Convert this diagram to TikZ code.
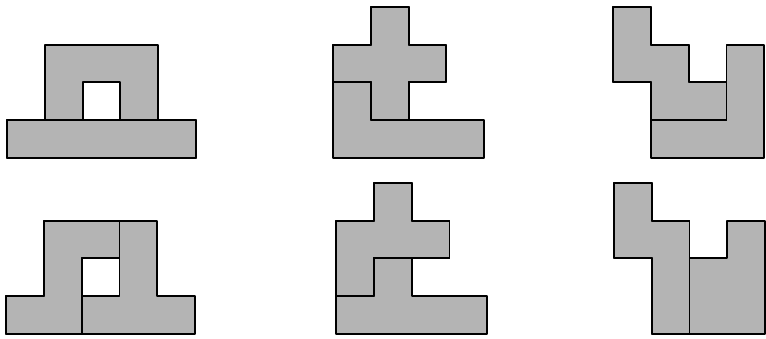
\documentclass[tikz,border=0pt]{standalone}
\usepackage{tikz}
\usepackage{xcolor}
\definecolor{piecegray}{RGB}{180,180,180}

\begin{document}
\begin{tikzpicture}[line width=1.4pt, line join=round,
    piece/.style={draw=black, fill=piecegray}]
            \useasboundingbox (0,0) rectangle (20.265,8.968);
            \begin{scope}[shift={(0.185,4.788)}]
                \draw[piece] (0,0) rectangle (5,1);
                \draw[piece] (1,1) -- (1,3) -- (4,3) -- (4,1) -- (3,1) -- (3,2) -- (2,2) -- (2,1) -- cycle;
                \draw (0,0) rectangle (5,1);
            \end{scope}
            \begin{scope}[shift={(8.81,4.788)}]
                \draw[piece] (1,1) -- (2,1) -- (2,2) -- (3,2) -- (3,3) -- (2,3) -- (2,4) -- (1,4) -- (1,3) -- (0,3) -- (0,2) -- (1,2) -- cycle;
                \draw[piece] (0,0) -- (4,0) -- (4,1) -- (1,1) -- (1,2) -- (0,2) -- cycle;
                \draw (1,1) -- (2,1) -- (2,2) -- (3,2) -- (3,3) -- (2,3) -- (2,4) -- (1,4) -- (1,3) -- (0,3) -- (0,2) -- (1,2) -- cycle;
            \end{scope}
            \begin{scope}[shift={(16.22,4.788)}]
                \draw[piece] (0,2) -- (1,2) -- (1,1) -- (3,1) -- (3,2) -- (2,2) -- (2,3) -- (1,3) -- (1,4) -- (0,4) -- cycle;
                \draw[piece] (1,0) -- (4,0) -- (4,3) -- (3,3) -- (3,1) -- (1,1) -- cycle;
                \draw (0,2) -- (1,2) -- (1,1) -- (3,1) -- (3,2) -- (2,2) -- (2,3) -- (1,3) -- (1,4) -- (0,4) -- cycle;
            \end{scope}
            \begin{scope}[shift={(0.16,0.132)}]
                \draw[piece] (0,0) -- (2,0) -- (2,2) -- (3,2) -- (3,3) -- (1,3) -- (1,1) -- (0,1) -- cycle;
                \draw[piece] (2,0) -- (5,0) -- (5,1) -- (4,1) -- (4,3) -- (3,3) -- (3,1) -- (2,1) -- cycle;
                \draw (0,0) -- (2,0) -- (2,2) -- (3,2) -- (3,3) -- (1,3) -- (1,1) -- (0,1) -- cycle;
            \end{scope}
            \begin{scope}[shift={(8.89,0.132)}]
                \draw[piece] (0,1) -- (1,1) -- (1,2) -- (3,2) -- (3,3) -- (2,3) -- (2,4) -- (1,4) -- (1,3) -- (0,3) -- cycle;
                \draw[piece] (0,0) -- (4,0) -- (4,1) -- (2,1) -- (2,2) -- (1,2) -- (1,1) -- (0,1) -- cycle;
                \draw (0,1) -- (1,1) -- (1,2) -- (3,2) -- (3,3) -- (2,3) -- (2,4) -- (1,4) -- (1,3) -- (0,3) -- cycle;
            \end{scope}
            \begin{scope}[shift={(16.24,0.132)}]
                \draw[piece] (1,0) -- (2,0) -- (2,3) -- (1,3) -- (1,4) -- (0,4) -- (0,2) -- (1,2) -- cycle;
                \draw[piece] (2,0) -- (4,0) -- (4,3) -- (3,3) -- (3,2) -- (2,2) -- cycle;
                \draw (1,0) -- (2,0) -- (2,3) -- (1,3) -- (1,4) -- (0,4) -- (0,2) -- (1,2) -- cycle;
            \end{scope}
        \end{tikzpicture}
\end{document}
